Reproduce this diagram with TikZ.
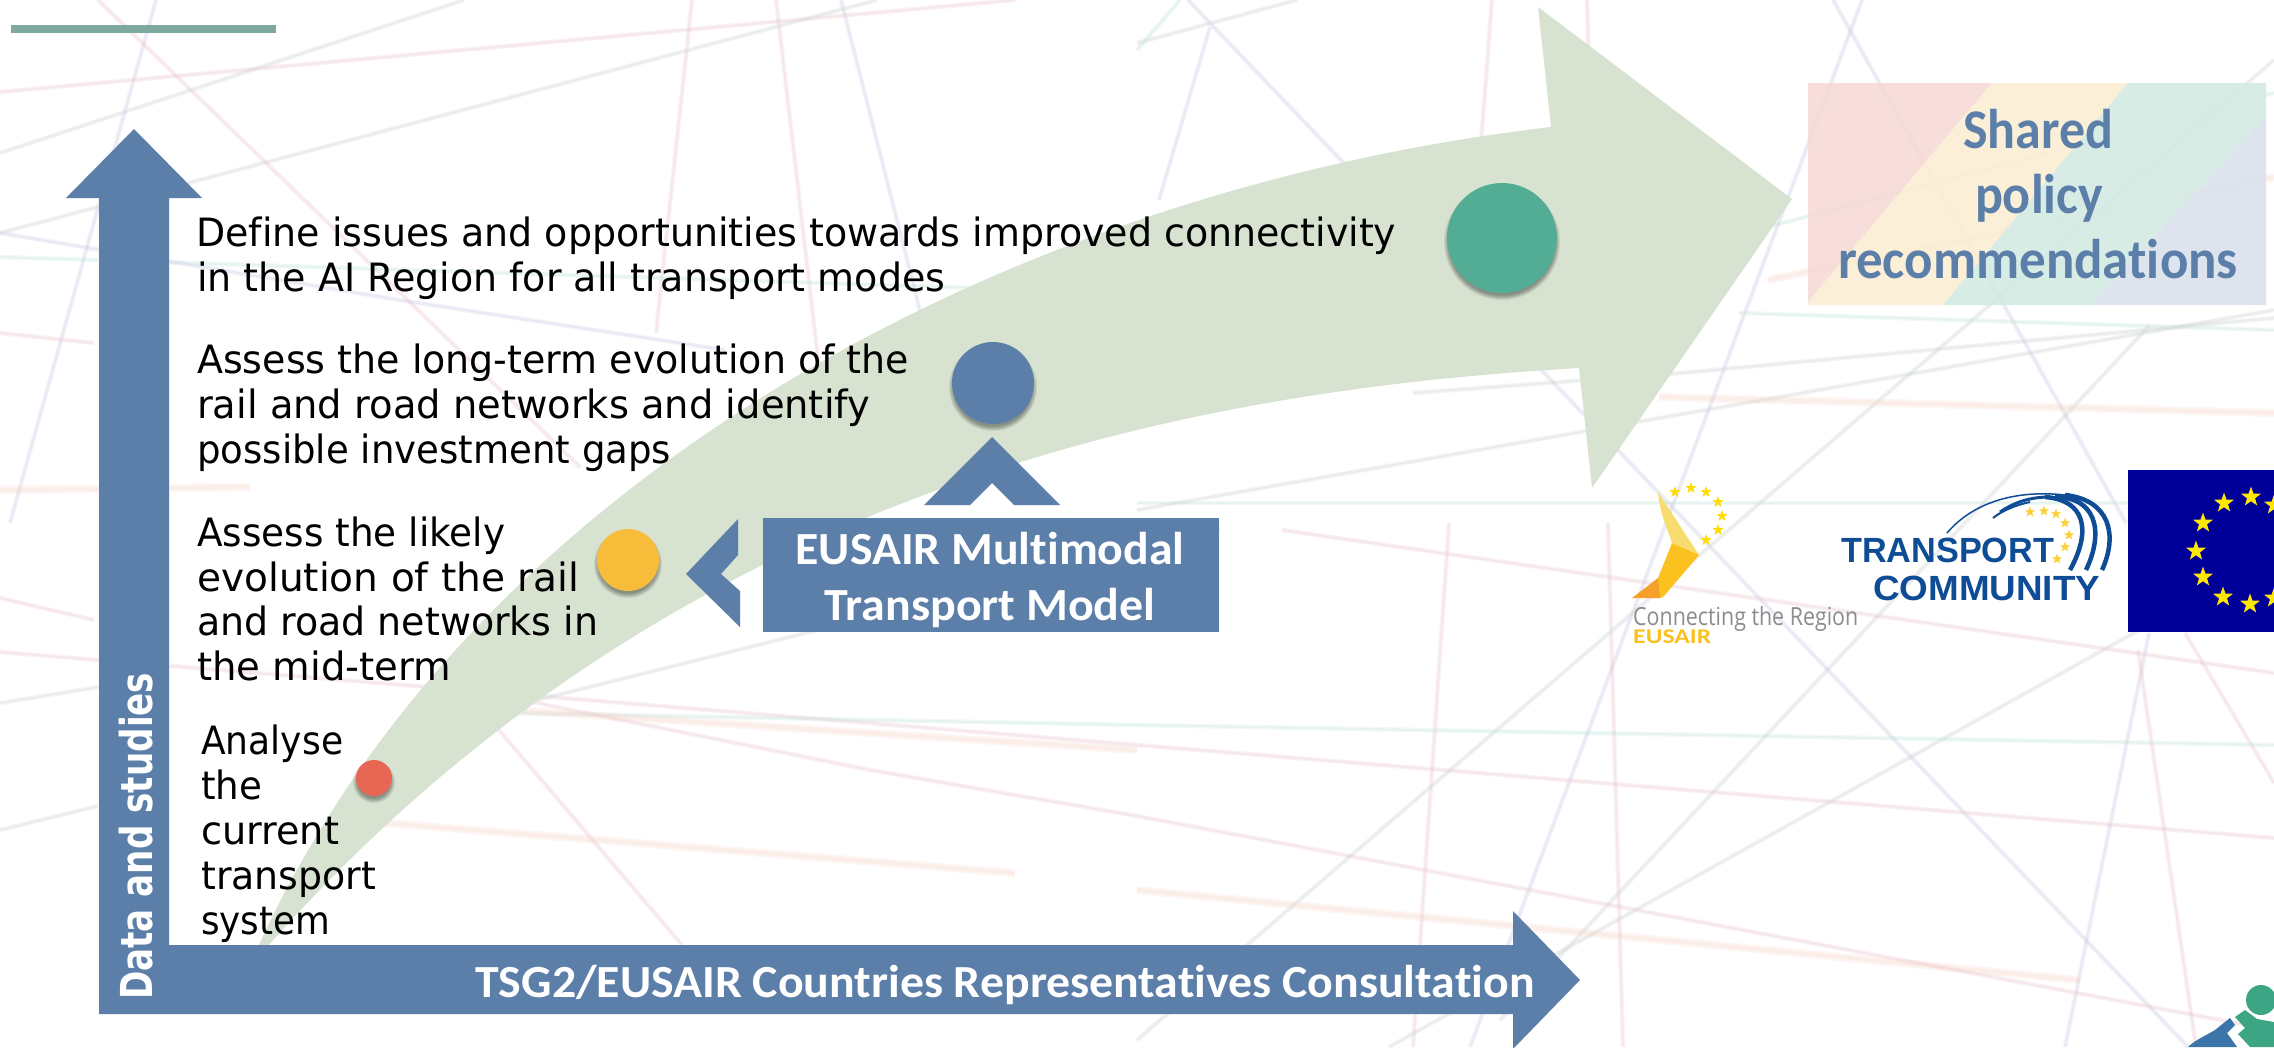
\documentclass[tikz,border=0pt]{standalone}
\usepackage{fontspec}
\usepackage{graphicx}
\usetikzlibrary{shapes.geometric}
\newfontfamily\bodyf[Ligatures=NoCommon]{DejaVu Sans}
\newfontfamily\carl[Ligatures=NoCommon]{Carlito}
\newfontfamily\arialf{Liberation Sans}
\newfontfamily\openf{Open Sans}
\definecolor{arrowblue}{HTML}{5C7FA9}
\definecolor{sage}{HTML}{D7E3D0}
\definecolor{barteal}{HTML}{7FA99F}
\definecolor{dotteal}{HTML}{52AD94}
\definecolor{dotorange}{HTML}{F6BC3A}
\definecolor{dotred}{HTML}{E76754}
\definecolor{tcblue}{HTML}{0F4C96}
\definecolor{lpur}{HTML}{C3C6E2}
\definecolor{lpink}{HTML}{E9C0CA}
\definecolor{lgrey}{HTML}{C8CFCF}
\definecolor{lteal}{HTML}{BDE2D8}
\definecolor{lpeach}{HTML}{F7CDC2}
\definecolor{panelred}{HTML}{F6D9D5}
\definecolor{panelyellow}{HTML}{FBEED2}
\definecolor{panelteal}{HTML}{D3EAE3}
\definecolor{panelblue}{HTML}{D9E1EC}
\definecolor{logolight}{HTML}{F7DC6F}
\definecolor{logomain}{HTML}{FBC11F}
\definecolor{logoorange}{HTML}{F5A028}
\definecolor{cornerblue}{HTML}{3C76A8}
\definecolor{cornerteal}{HTML}{3BA584}
\newcommand{\fw}[2]{\resizebox{#1pt}{\height}{#2}}
\newcommand{\shadowdot}[5]{%
  \foreach \k in {0,1,...,5}{\fill[black,opacity=.07] (#2,#3+4) circle ({#4+\k*0.9-1.5 pt});}
  \node[circle,fill=#5,inner sep=0pt,minimum size=#4*2pt] (#1) at (#2,#3) {};}
\tikzset{
  bodytxt/.style={anchor=base west,inner sep=0pt,text=black,font=\bodyf\fontsize{39}{45}\selectfont},
  bluetxt/.style={anchor=base,inner sep=0pt,text=white,font=\carl\bfseries\fontsize{46}{55}\selectfont},
  sharetxt/.style={anchor=base,inner sep=0pt,text=arrowblue,font=\carl\bfseries\fontsize{56}{64}\selectfont},
  tctxt/.style={anchor=base west,inner sep=0pt,text=tcblue,font=\arialf\bfseries\fontsize{35}{40}\selectfont},
  starbase/.style={star,star points=5,star point ratio=2.5,inner sep=0pt,draw=none},
  bgline/.style={line width=#1,line cap=butt,opacity=.2,postaction={draw,line width=#1*.5}},
  bgline/.default=4.5pt
}
\begin{document}
\begin{tikzpicture}[x=1pt,y=-1pt]
\useasboundingbox (0,0) rectangle (2274,1047);
\fill[white] (0,0) rectangle (2274,1047);
% ---------- faint network background
\foreach \a/\b/\c/\d in {156/0/10/523, 841/0/930/350, 1188/0/2188/1047, 1862/0/1470/1047, 2149/633/2065/1047, 1833/0/2126/523, 1210/27/1159/200, 399/300/0/233, 399/300/725/350}
  \draw[bgline,lpur] (\a,\b) -- (\c,\d);
\foreach \a/\b/\c/\d in {776/0/819/367, 692/0/656/333, 1492/0/1481/143, 1587/0/1590/100, 1608/523/1623/1047, 1449/523/1413/1047, 2185/633/2274/783, 2138/650/2196/1047, 0/92/1015/0, 0/333/94/343, 0/598/94/620, 98/0/580/467, 493/723/682/945, 0/652/1137/745, 1137/745/2274/838, 522/700/870/770, 870/770/1137/816, 1137/816/2274/1030, 1282/530/2274/673}
  \draw[bgline,lpink] (\a,\b) -- (\c,\d);
\foreach \a/\b/\c/\d in {0/153/464/0, 0/233/877/0, 2274/60/1137/1040, 2274/555/1389/1047, 2150/325/1500/1020, 1220/530/537/700, 0/703/167/676, 0/830/98/806, 1137/43/1297/0, 1681/373/2274/318, 1137/510/2274/310, 1413/393/1681/373}
  \draw[bgline,lgrey] (\a,\b) -- (\c,\d);
\foreach \a/\b/\c/\d in {0/257/1137/293, 1768/227/2274/93, 1739/313/2274/330, 508/713/1137/725, 1137/725/2274/745, 1137/503/2274/503, 1137/50/1180/0}
  \draw[bgline,lteal] (\a,\b) -- (\c,\d);
\foreach \a/\b/\c/\d in {1137/890/2080/980, 384/823/1015/873, 508/710/1137/750, 1768/280/2274/177, 1659/397/2274/413, 0/490/250/487}
  \draw[bgline=8pt,lpeach] (\a,\b) -- (\c,\d);
% ---------- top-left bar
\fill[barteal] (11,25) rectangle (276,33);
% ---------- big curved green arrow
\fill[sage] (258,947) .. controls (470,480) and (1010,190) .. (1551,127)
  -- (1538,7) -- (1792,199) -- (1592,488) -- (1579,368)
  .. controls (1200,390) and (680,480) .. (267,947) -- cycle;
% ---------- axes arrow
\fill[arrowblue] (134,129) -- (202,198) -- (169,198) -- (169,945) -- (1513,945) -- (1513,911)
  -- (1580,980) -- (1513,1049) -- (1513,1014) -- (99,1014) -- (99,198) -- (66,198) -- cycle;
% ---------- dots
\shadowdot{dred}{374}{778}{18}{dotred}
\shadowdot{dorange}{628}{560}{31}{dotorange}
\shadowdot{dblue}{993}{383}{41}{arrowblue}
\shadowdot{dteal}{1502}{238}{55}{dotteal}
% ---------- chevrons
\fill[arrowblue] (992,437) -- (1060,505) -- (1014,505) -- (992,483) -- (970,505) -- (924,505) -- cycle;
\fill[arrowblue] (686,574) -- (738,519) -- (738,555) -- (721,574) -- (740,591) -- (740,627) -- cycle;
% ---------- model box
\node[rectangle,fill=arrowblue,inner sep=0pt,minimum width=456pt,minimum height=114pt] (modelbox) at (991,575) {};
\node[bluetxt] (m1) at (990,564) {\fw{389}{EUSAIR Multimodal}};
\node[bluetxt] (m2) at (990,620) {\fw{331}{Transport Model}};
% ---------- axis labels
\node[bluetxt] (tsg) at (1005,997) {\fw{1059}{TSG2/EUSAIR Countries Representatives Consultation}};
\node[anchor=base west,inner sep=0pt,text=white,rotate=90,font=\bodyf\bfseries\fontsize{44}{50}\selectfont] (data) at (152,1000) {\fw{327}{Data and studies}};
% ---------- body text
\node[bodytxt] (a1) at (196,246) {\fw{1200}{Define issues and opportunities towards improved connectivity}};
\node[bodytxt] (a2) at (197,291) {\fw{748}{in the AI Region for all transport modes}};
\node[bodytxt] (b1) at (197,373) {\fw{712}{Assess the long-term evolution of the}};
\node[bodytxt] (b2) at (197,418) {\fw{673}{rail and road networks and identify}};
\node[bodytxt] (b3) at (197,463) {\fw{474}{possible investment gaps}};
\node[bodytxt] (c1) at (197,546) {\fw{308}{Assess the likely}};
\node[bodytxt] (c2) at (197,591) {\fw{382}{evolution of the rail}};
\node[bodytxt] (c3) at (197,635) {\fw{401}{and road networks in}};
\node[bodytxt] (c4) at (197,680) {\fw{254}{the mid-term}};
\node[bodytxt] (d1) at (201,754) {\fw{142}{Analyse}};
\node[bodytxt] (d2) at (201,799) {\fw{61}{the}};
\node[bodytxt] (d3) at (201,844) {\fw{138}{current}};
\node[bodytxt] (d4) at (201,889) {\fw{175}{transport}};
\node[bodytxt] (d5) at (201,934) {\fw{129}{system}};
% ---------- shared policy panel
\fill[panelred,opacity=.85] (1808,83) -- (1992,83) -- (1808,302) -- cycle;
\fill[panelyellow,opacity=.88] (1992,83) -- (2128,83) -- (1943,305) -- (1808,305) -- (1808,302) -- cycle;
\fill[panelteal,opacity=.88] (2128,83) -- (2266,83) -- (2266,117) -- (2090,305) -- (1943,305) -- cycle;
\fill[panelblue,opacity=.88] (2266,117) -- (2266,305) -- (2090,305) -- cycle;
\node[sharetxt] (s1) at (2038,148) {\fw{150}{Shared}};
\node[sharetxt] (s2) at (2039,213) {\fw{128}{policy}};
\node[sharetxt] (s3) at (2038,278) {\fw{400}{recommendations}};
% ---------- EUSAIR logo
\fill[logolight] (1658,492) -- (1699,555) -- (1672,543) .. controls (1668,530) and (1660,515) .. cycle;
\fill[logomain] (1672,543) -- (1699,555) -- (1664,596) .. controls (1662,598) and (1660,598) .. (1658,598) -- (1658,578) -- cycle;
\fill[logoorange] (1658,578) -- (1660,598) -- (1632,598) -- cycle;
\foreach \x/\y [count=\i] in {1675/492,1691/488,1706/492,1718/502,1722/516,1718/530,1706/540}
  \node[starbase,fill=yellow!80!orange,minimum size=12pt] (sa\i) at (\x,\y) {};
\node[anchor=base west,inner sep=0pt,text=black!45,font=\openf\fontsize{25}{28}\selectfont] (cr) at (1633,625) {\fw{225}{Connecting the Region}};
\node[anchor=base west,inner sep=0pt,text=logomain,font=\carl\bfseries\fontsize{21}{24}\selectfont] (eus) at (1633,643) {\fw{78}{EUSAIR}};
% ---------- Transport Community logo
\draw[tcblue,line width=4.5pt] (2102,570) .. controls (2118,535) and (2110,500) .. (2065,495);
\draw[tcblue,line width=4.5pt] (2086,570) .. controls (2105,530) and (2095,497) .. (2055,497);
\draw[tcblue,line width=4.5pt] (2070,570) .. controls (2092,530) and (2085,500) .. (2045,497);
\draw[tcblue,line width=1.5pt] (2065,495) .. controls (2020,490) and (1975,500) .. (1947,533);
\draw[tcblue,line width=3pt] (2050,497) .. controls (2030,497) and (2015,502) .. (2000,512);
\draw[tcblue,line width=2pt] (2030,502) .. controls (2015,505) and (2000,512) .. (1993,518);
\foreach \x/\y [count=\i] in {2030/512,2044/511,2056/514,2065/523,2069/535,2065/547,2057/559}
  \node[starbase,fill=yellow!60!orange!80!white,minimum size=11pt] (st\i) at (\x,\y) {};
\node[tctxt] (t1) at (1841,562) {\fw{213}{TRANSPORT}};
\node[tctxt] (t2) at (1873,600) {\fw{227}{COMMUNITY}};
% ---------- EU flag
\node[rectangle,fill=blue!60!black,inner sep=0pt,anchor=north west,minimum width=146pt,minimum height=162pt] (flag) at (2128,470) {};
\foreach \x/\y [count=\i] in {2251/497,2224/503,2203/523,2196/551,2203/577,2223/597,2250/604,2274/505,2274/598}
  \node[starbase,fill=yellow!90!orange,minimum size=21pt] (se\i) at (\x,\y) {};
% ---------- partial logo at the corner
\fill[cornerteal] (2261,1000) circle (15pt);
\fill[cornerteal] (2235,1017) -- (2245,1010) -- (2257,1019) -- (2274,1022) -- (2274,1047) -- (2250,1047) -- (2238,1034) -- (2245,1028) -- cycle;
\fill[cornerblue] (2188,1047) .. controls (2195,1040) and (2205,1036) .. (2215,1030) -- (2230,1018) -- (2235,1025) -- (2227,1033) -- (2237,1047) -- cycle;
\end{tikzpicture}
\end{document}
